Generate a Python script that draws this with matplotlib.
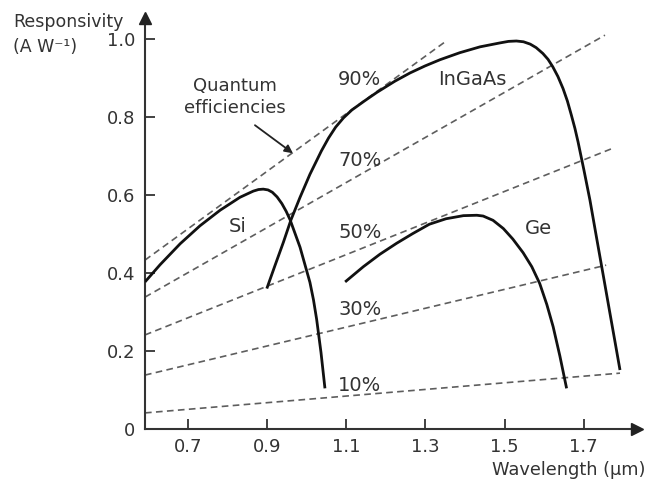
import matplotlib
matplotlib.use("Agg")
import matplotlib.pyplot as plt
import numpy as np

# ---- data ----
si_wl = [0.591, 0.629, 0.680, 0.730, 0.781, 0.831, 0.850, 0.865, 0.878, 0.890, 0.902,
         0.913, 0.925, 0.937, 0.948, 0.958, 0.983, 1.008, 1.017, 1.025, 1.036, 1.046]
si_r  = [0.376, 0.420, 0.474, 0.520, 0.560, 0.593, 0.602, 0.609, 0.613, 0.614, 0.612,
         0.606, 0.594, 0.577, 0.557, 0.535, 0.465, 0.375, 0.330, 0.280, 0.195, 0.103]

ingaas_wl = [0.899, 0.920, 0.941, 0.960, 0.983, 1.008, 1.037, 1.055, 1.073, 1.093, 1.114,
             1.147, 1.177, 1.223, 1.261, 1.299, 1.337, 1.387, 1.438, 1.488, 1.510, 1.530,
             1.548, 1.565, 1.580, 1.597, 1.610, 1.622, 1.635, 1.648, 1.659, 1.669, 1.678,
             1.686, 1.701, 1.716, 1.733, 1.750, 1.766, 1.780, 1.792]
ingaas_r  = [0.359, 0.419, 0.478, 0.535, 0.593, 0.652, 0.712, 0.745, 0.773, 0.797, 0.817,
             0.841, 0.862, 0.891, 0.912, 0.930, 0.946, 0.964, 0.979, 0.989, 0.993, 0.994,
             0.992, 0.986, 0.977, 0.962, 0.947, 0.928, 0.903, 0.872, 0.840, 0.804, 0.770,
             0.735, 0.662, 0.586, 0.488, 0.391, 0.299, 0.219, 0.150]

ge_wl = [1.097, 1.143, 1.185, 1.227, 1.268, 1.310, 1.352, 1.396, 1.430, 1.446, 1.471,
         1.497, 1.521, 1.547, 1.569, 1.589, 1.607, 1.623, 1.640, 1.657]
ge_r  = [0.376, 0.415, 0.447, 0.475, 0.500, 0.524, 0.538, 0.546, 0.547, 0.545, 0.534,
         0.513, 0.486, 0.451, 0.415, 0.372, 0.318, 0.261, 0.186, 0.103]

qe_labels = ["10%", "30%", "50%", "70%", "90%"]
qe_start_r = [0.040, 0.137, 0.240, 0.337, 0.432]    # responsivity at left axis
qe_end_wl = [1.792, 1.757, 1.779, 1.754, 1.350]
qe_end_r = [0.142, 0.419, 0.721, 1.009, 0.992]
qe_label_r = [0.11, 0.305, 0.504, 0.688, 0.894]

x_ticks = [0.7, 0.9, 1.1, 1.3, 1.5, 1.7]
x_tick_labels = ["0.7", "0.9", "1.1", "1.3", "1.5", "1.7"]
y_ticks = [0, 0.2, 0.4, 0.6, 0.8, 1.0]
y_tick_labels = ["0", "0.2", "0.4", "0.6", "0.8", "1.0"]

# ---- figure ----
plt.rcParams['font.family'] = ['DejaVu Sans']
W, H = 646, 491
fig = plt.figure(figsize=(W / 100, H / 100), dpi=100)
ax_left, ax_right, ax_bottom, ax_top = 145 / W, 637 / W, (H - 428.5) / H, (H - 18) / H
ax = fig.add_axes([ax_left, ax_bottom, ax_right - ax_left, ax_top - ax_bottom])

xmin, xmax = 0.591, 1.835
ymin, ymax = 0.0, 1.053
ax.set_xlim(xmin, xmax)
ax.set_ylim(ymin, ymax)

txt = '#333333'
dash_col = '#5e5e5e'

# quantum efficiency lines
for r0, xe, re_ in zip(qe_start_r, qe_end_wl, qe_end_r):
    ax.plot([xmin, xe], [r0, re_], color=dash_col, lw=1.2,
            linestyle=(0, (4.0, 2.6)), clip_on=False, zorder=2)

for lab, ly in zip(qe_labels, qe_label_r):
    ax.text(1.079, ly, lab, fontsize=14, color=txt, ha='left', va='center', zorder=4)

# curves
for wl, r in [(si_wl, si_r), (ingaas_wl, ingaas_r), (ge_wl, ge_r)]:
    ax.plot(wl, r, color='#111111', lw=2.0, solid_capstyle='butt',
            solid_joinstyle='round', zorder=3)

ax.text(0.825, 0.518, "Si", fontsize=14, color=txt, ha='center', va='center')
ax.text(1.418, 0.894, "InGaAs", fontsize=14, color=txt, ha='center', va='center')
ax.text(1.586, 0.513, "Ge", fontsize=14, color=txt, ha='center', va='center')

ax.text(0.819, 0.85, "Quantum\nefficiencies", fontsize=13, color=txt,
        ha='center', va='center', linespacing=1.25)
ax.annotate("", xy=(0.965, 0.706), xytext=(0.869, 0.778),
            arrowprops=dict(arrowstyle='-|>', color='#222222', lw=1.3,
                            mutation_scale=12, shrinkA=0, shrinkB=0))

# axes styling
for s in ['top', 'right']:
    ax.spines[s].set_visible(False)
for s in ['left', 'bottom']:
    ax.spines[s].set_color('#333333')
    ax.spines[s].set_linewidth(1.5)

ax.set_xticks(x_ticks)
ax.set_xticklabels(x_tick_labels)
ax.set_yticks(y_ticks)
ax.set_yticklabels(y_tick_labels)
ax.tick_params(direction='in', length=7, width=1.3, color='#333333',
               labelsize=13, labelcolor=txt, pad=7)

# arrow heads on axes
ax.plot(1, 0, marker='>', color='#222222', markersize=9, transform=ax.transAxes,
        clip_on=False, zorder=5)
ax.plot(0, 1, marker='^', color='#222222', markersize=9, transform=ax.transAxes,
        clip_on=False, zorder=5)

# axis titles
fig.text(13 / W, 1 - 27 / H, "Responsivity", fontsize=12.5, color=txt,
         ha='left', va='baseline')
fig.text(13 / W, 1 - 52 / H, "(A W\u207b\u00b9)", fontsize=12.5, color=txt,
         ha='left', va='baseline')
fig.text(645 / W, 1 - 475 / H, "Wavelength (\u00b5m)", fontsize=12.8, color=txt,
         ha='right', va='baseline')

fig.savefig("out.png", dpi=100, facecolor='white')
